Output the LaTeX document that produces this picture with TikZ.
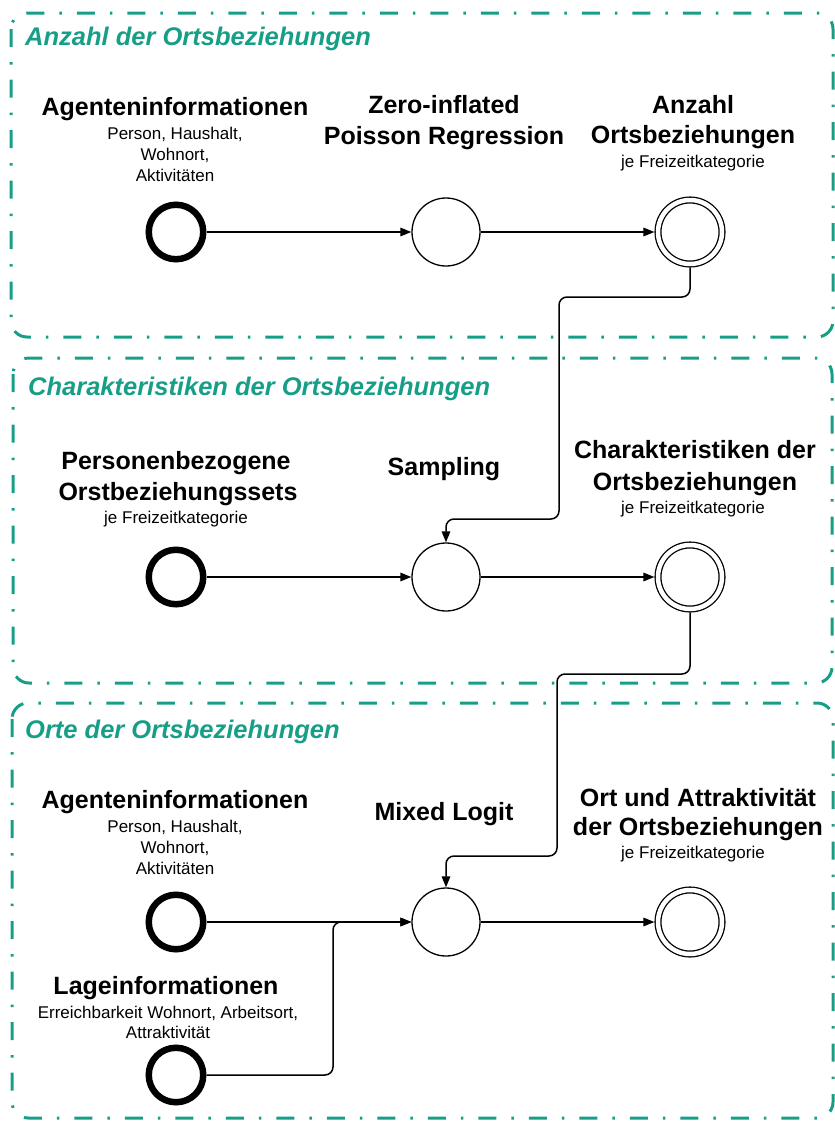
\documentclass[tikz,border=0pt]{standalone}
\usepackage{fontspec}
\setmainfont{Liberation Sans}
\usetikzlibrary{arrows.meta}
\definecolor{grpteal}{RGB}{22,158,134}
\newcommand\tbig{\fontsize{25}{30}\selectfont\bfseries}
\newcommand\tsmall{\fontsize{17}{21}\selectfont}
\newcommand\grphead{\fontsize{25.5}{30}\selectfont\bfseries\itshape}
\begin{document}
\begin{tikzpicture}[x=1pt,y=-1pt,
  grp/.style={draw=grpteal, line width=3pt, rounded corners=16pt,
    dash pattern=on 18pt off 15pt on 2.5pt off 15pt},
  startev/.style={circle, draw, line width=6.5pt, minimum size=54.5pt, inner sep=0pt},
  taskev/.style={circle, draw, line width=1.3pt, minimum size=68pt, inner sep=0pt},
  endev/.style={circle, draw, line width=1.3pt, double=white, double distance=4.5pt,
    minimum size=64pt, inner sep=0pt, outer sep=3.6pt},
  conn/.style={draw, line width=1.5pt, rounded corners=8pt,
    -{Triangle[length=11pt,width=8.5pt]}},
  bt/.style={font=\tbig, anchor=base, inner sep=0pt},
  st/.style={font=\tsmall, anchor=base, inner sep=0pt},
  ht/.style={font=\grphead, text=grpteal, anchor=base west, inner sep=0pt}]
\useasboundingbox (0,0) rectangle (835,1122);

% containers
\draw[grp] (11,13) rectangle (833,337);
\draw[grp] (13,358) rectangle (832,683);
\draw[grp] (12,703) rectangle (833,1118);

\node[ht] (h1) at (25,45) {Anzahl der Ortsbeziehungen};
\node[ht] (h2) at (28,395) {Charakteristiken der Ortsbeziehungen};
\node[ht] (h3) at (25,738) {Orte der Ortsbeziehungen};

% row 1
\node[startev] (s1) at (176,232) {};
\node[taskev] (m1) at (446,232) {};
\node[endev] (e1) at (690,232) {};
\node[bt] (t1a) at (175,115) {Agenteninformationen};
\node[st] (t1b) at (175,139) {Person, Haushalt,};
\node[st] (t1c) at (175,160) {Wohnort,};
\node[st] (t1d) at (175,181) {Aktivitäten};
\node[bt] (t1e) at (444,113) {Zero-inflated};
\node[bt] (t1f) at (444,144) {Poisson Regression};
\node[bt] (t1g) at (693,113) {Anzahl};
\node[bt] (t1h) at (693,143) {Ortsbeziehungen};
\node[st] (t1i) at (693,167) {je Freizeitkategorie};

% row 2
\node[startev] (s2) at (176,577) {};
\node[taskev] (m2) at (446,577) {};
\node[endev] (e2) at (690,577) {};
\node[bt] (t2a) at (176,469) {Personenbezogene};
\node[bt] (t2b) at (178,500) {Orstbeziehungssets};
\node[st] (t2c) at (176,523) {je Freizeitkategorie};
\node[bt] (t2d) at (444,475) {Sampling};
\node[bt] (t2e) at (695,458) {Charakteristiken der};
\node[bt] (t2f) at (695,490) {Ortsbeziehungen};
\node[st] (t2g) at (693,513) {je Freizeitkategorie};

% row 3
\node[startev] (s3) at (176,922) {};
\node[startev] (s4) at (176,1075) {};
\node[taskev] (m3) at (446,922) {};
\node[endev] (e3) at (690,922) {};
\node[bt] (t3a) at (175,808) {Agenteninformationen};
\node[st] (t3b) at (175,832) {Person, Haushalt,};
\node[st] (t3c) at (175,853) {Wohnort,};
\node[st] (t3d) at (175,874) {Aktivitäten};
\node[bt] (t3e) at (444,820) {Mixed Logit};
\node[bt] (t3f) at (698,806) {Ort und Attraktivität};
\node[bt] (t3g) at (698,835) {der Ortsbeziehungen};
\node[st] (t3h) at (693,858) {je Freizeitkategorie};
\node[bt] (t3i) at (166,994) {Lageinformationen};
\node[st] (t3j) at (168,1018) {Erreichbarkeit Wohnort, Arbeitsort,};
\node[st] (t3k) at (168,1038) {Attraktivität};

% coordinates for bends
\coordinate (c1a) at (690,297);
\coordinate (c1b) at (559,297);
\coordinate (c1c) at (559,519);
\coordinate (c1d) at (446,519);
\coordinate (c2a) at (690,674);
\coordinate (c2b) at (557,674);
\coordinate (c2c) at (557,856);
\coordinate (c2d) at (446,856);
\coordinate (c3a) at (333,1075);
\coordinate (c3b) at (333,922);

% connectors
\draw[conn] (s1) -- (m1);
\draw[conn] (m1) -- (e1);
\draw[conn] (e1.south) -- (c1a) -- (c1b) -- (c1c) -- (c1d) -- (m2.north);
\draw[conn] (s2) -- (m2);
\draw[conn] (m2) -- (e2);
\draw[conn] (e2.south) -- (c2a) -- (c2b) -- (c2c) -- (c2d) -- (m3.north);
\draw[conn] (s3) -- (m3);
\draw[conn] (s4.east) -- (c3a) -- (c3b) -- (m3.west);
\draw[conn] (m3) -- (e3);
\end{tikzpicture}
\end{document}
